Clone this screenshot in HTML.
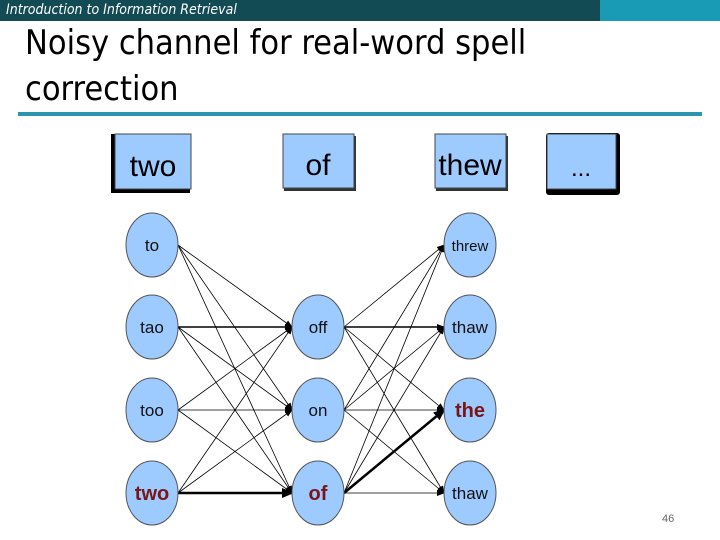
<!DOCTYPE html>
<html><head><meta charset="utf-8"><style>
body{margin:0;width:720px;height:540px;background:#fff;position:relative;overflow:hidden;font-family:"Liberation Sans",sans-serif}
.hb{position:absolute;top:0;left:0;width:600px;height:21px;background:#134b55}
.hb2{position:absolute;top:0;left:600px;width:120px;height:21px;background:#1a9bb5}
.ht{position:absolute;left:6px;top:2px;font-size:14px;font-style:italic;color:#fff;font-family:"DejaVu Sans Condensed","Liberation Sans",sans-serif}
.t{position:absolute;left:25px;top:20px;font-size:34px;line-height:46px;color:#000;font-family:"DejaVu Sans Condensed","Liberation Sans",sans-serif}
.rule{position:absolute;left:18px;top:112px;width:684px;height:4px;background:#2a96ad}
.pg{position:absolute;left:662px;top:513px;font-size:11px;color:#666}
</style></head><body>
<div class="hb"></div><div class="hb2"></div>
<div class="ht">Introduction to Information Retrieval</div>
<div class="t">Noisy channel for real-word spell<br>correction</div>
<div class="rule"></div>
<svg width="720" height="540" style="position:absolute;left:0;top:0">
<defs><marker id="a" markerWidth="8" markerHeight="8" refX="7" refY="4" orient="auto" markerUnits="userSpaceOnUse"><path d="M0,1 L8,4 L0,7z" fill="#000"/></marker>
<marker id="b" markerWidth="12" markerHeight="12" refX="10" refY="6" orient="auto" markerUnits="userSpaceOnUse"><path d="M0,1 L12,6 L0,11z" fill="#000"/></marker></defs>
<g font-family="Liberation Sans Narrow,Liberation Sans,sans-serif" text-anchor="middle">
<rect x="111" y="134" width="79" height="59" fill="#000"/><rect x="115" y="134" width="76" height="55" fill="#9ecbff" stroke="#444"/>
<text x="153" y="176" font-size="30">two</text>
<rect x="284" y="136" width="72" height="55" fill="#333"/><rect x="283" y="134" width="71" height="54" fill="#9ecbff" stroke="#444"/>
<text x="318" y="175" font-size="30">of</text>
<rect x="436" y="136" width="72" height="55" fill="#333"/><rect x="435" y="134" width="71" height="54" fill="#9ecbff" stroke="#444"/>
<text x="470" y="175" font-size="30">thew</text>
<rect x="546" y="133" width="74" height="62" rx="3" fill="#000"/><rect x="547" y="134" width="69" height="55" fill="#9ecbff" stroke="#444"/>
<text x="581" y="176" font-size="24">...</text>
<g stroke="#000" stroke-width="0.8" fill="none" marker-end="url(#a)">
<line x1="178" y1="245" x2="292" y2="327"/><line x1="178" y1="245" x2="292" y2="410"/><line x1="178" y1="245" x2="292" y2="493"/>
<line x1="178" y1="327" x2="292" y2="410"/><line x1="178" y1="327" x2="292" y2="493"/>
<line x1="178" y1="410" x2="292" y2="327"/><line x1="178" y1="410" x2="292" y2="410"/><line x1="178" y1="410" x2="292" y2="493"/>
<line x1="178" y1="493" x2="292" y2="327"/><line x1="178" y1="493" x2="292" y2="410"/>
<line x1="344" y1="327" x2="444" y2="245"/><line x1="344" y1="327" x2="444" y2="410"/><line x1="344" y1="327" x2="444" y2="493"/>
<line x1="344" y1="410" x2="444" y2="245"/><line x1="344" y1="410" x2="444" y2="327"/><line x1="344" y1="410" x2="444" y2="410"/><line x1="344" y1="410" x2="444" y2="493"/>
<line x1="344" y1="493" x2="444" y2="245"/><line x1="344" y1="493" x2="444" y2="327"/><line x1="344" y1="493" x2="444" y2="493"/>
</g>
<g stroke="#000" stroke-width="1.6" marker-end="url(#a)"><line x1="178" y1="327" x2="292" y2="327"/><line x1="344" y1="327" x2="444" y2="327"/></g>
<g stroke="#000" stroke-width="2.5" marker-end="url(#b)"><line x1="178" y1="493" x2="292" y2="493"/><line x1="344" y1="493" x2="444" y2="410"/></g>
<g fill="#9ecbff" stroke="#555" stroke-width="1">
<ellipse cx="152" cy="245" rx="26" ry="32"/><ellipse cx="152" cy="327" rx="26" ry="32"/><ellipse cx="152" cy="410" rx="26" ry="32"/><ellipse cx="152" cy="493" rx="26" ry="32"/>
<ellipse cx="318" cy="327" rx="26" ry="32"/><ellipse cx="318" cy="410" rx="26" ry="32"/><ellipse cx="318" cy="493" rx="26" ry="32"/>
<ellipse cx="470" cy="245" rx="26" ry="32"/><ellipse cx="470" cy="327" rx="26" ry="32"/><ellipse cx="470" cy="410" rx="26" ry="32"/><ellipse cx="470" cy="493" rx="26" ry="32"/>
</g>
<g font-size="17" fill="#111">
<text x="152" y="251">to</text><text x="152" y="333">tao</text><text x="152" y="416">too</text>
<text x="318" y="333">off</text><text x="318" y="416">on</text>
<text x="470" y="251" font-size="15">threw</text><text x="470" y="333">thaw</text><text x="470" y="499">thaw</text>
</g>
<g font-size="20" fill="#7a1515" font-weight="bold">
<text x="152" y="500">two</text><text x="318" y="500">of</text><text x="470" y="417">the</text>
</g>
</g></svg>
<div class="pg">46</div>
</body></html>
